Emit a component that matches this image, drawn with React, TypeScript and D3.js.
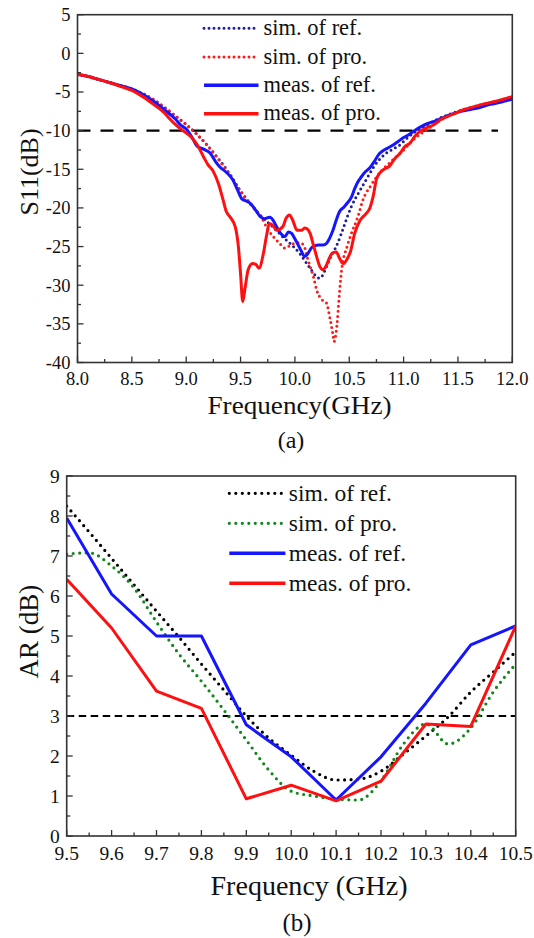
import React from 'react';
import * as d3 from 'd3';

const FONT = "'Liberation Serif', 'Times New Roman', Times, 'DejaVu Serif', serif";

// ---------- (a) S11 data ----------
const s11SimRefFreq = [8.0, 8.2, 8.4, 8.5, 8.6, 8.7, 8.8, 8.9, 9.0, 9.1, 9.2, 9.3, 9.4, 9.5, 9.6, 9.7, 9.8, 9.9, 10.0, 10.05, 10.1, 10.15, 10.2, 10.23, 10.26, 10.29, 10.33, 10.38, 10.42, 10.45, 10.52, 10.6, 10.67, 10.72, 10.8, 10.85, 10.9, 10.97, 11.03, 11.09, 11.2, 11.3, 11.4, 11.5, 11.6, 11.7, 11.8, 11.9, 12.0];
const s11SimRefDb = [-2.7, -3.4, -4.2, -4.6, -5.2, -6.0, -7.0, -8.1, -9.2, -10.5, -12.0, -13.7, -15.6, -17.8, -19.6, -21.2, -22.5, -23.9, -25.2, -26.0, -27.0, -28.0, -28.9, -29.1, -28.6, -27.6, -26.3, -25.0, -23.6, -22.4, -19.8, -17.7, -16.0, -14.8, -13.4, -12.8, -12.4, -11.8, -11.0, -10.3, -9.4, -8.6, -8.0, -7.5, -7.1, -6.8, -6.4, -6.1, -5.8];

const s11SimProFreq = [8.0, 8.2, 8.4, 8.5, 8.6, 8.7, 8.8, 8.9, 9.0, 9.1, 9.2, 9.3, 9.4, 9.5, 9.6, 9.7, 9.74, 9.8, 9.86, 9.91, 9.95, 9.99, 10.04, 10.08, 10.12, 10.17, 10.2, 10.25, 10.29, 10.32, 10.35, 10.36, 10.385, 10.41, 10.43, 10.48, 10.52, 10.58, 10.63, 10.69, 10.75, 10.81, 10.87, 10.93, 11.0, 11.06, 11.12, 11.2, 11.3, 11.4, 11.5, 11.6, 11.7, 11.8, 11.9, 12.0];
const s11SimProDb = [-2.7, -3.4, -4.2, -4.6, -5.2, -6.0, -7.0, -8.1, -9.2, -10.5, -12.0, -13.8, -15.7, -17.9, -19.7, -21.4, -22.5, -23.7, -24.6, -25.2, -24.9, -24.6, -24.5, -24.8, -26.7, -28.9, -30.6, -31.9, -32.3, -34.1, -36.4, -37.3, -35.4, -31.0, -28.0, -25.0, -23.3, -21.1, -18.8, -17.3, -16.0, -15.0, -14.2, -13.4, -12.5, -11.6, -10.8, -10.0, -9.0, -8.2, -7.6, -7.1, -6.7, -6.4, -6.0, -5.6];

const s11MeasRefFreq = [8.0, 8.1, 8.2, 8.3, 8.4, 8.5, 8.6, 8.7, 8.8, 8.9, 8.95, 9.0, 9.05, 9.1, 9.16, 9.22, 9.27, 9.31, 9.37, 9.43, 9.47, 9.51, 9.55, 9.59, 9.64, 9.68, 9.72, 9.77, 9.8, 9.83, 9.87, 9.91, 9.94, 9.97, 10.0, 10.03, 10.06, 10.09, 10.12, 10.15, 10.18, 10.22, 10.26, 10.29, 10.32, 10.35, 10.38, 10.41, 10.45, 10.48, 10.52, 10.55, 10.58, 10.61, 10.65, 10.69, 10.73, 10.77, 10.81, 10.85, 10.9, 10.95, 11.0, 11.05, 11.1, 11.2, 11.3, 11.4, 11.5, 11.6, 11.7, 11.8, 11.9, 12.0];
const s11MeasRefDb = [-2.7, -3.0, -3.4, -3.8, -4.2, -4.6, -5.3, -6.2, -7.3, -8.5, -9.3, -9.8, -10.8, -12.0, -12.4, -12.9, -14.0, -14.7, -15.4, -16.4, -17.6, -18.8, -19.1, -19.4, -20.3, -21.1, -21.4, -21.2, -21.6, -22.4, -23.3, -23.7, -23.1, -23.3, -24.0, -24.8, -25.6, -26.3, -25.9, -25.2, -24.9, -24.8, -24.8, -24.6, -23.9, -22.9, -21.6, -20.5, -19.9, -19.4, -18.6, -17.5, -16.6, -16.0, -15.3, -14.8, -14.0, -13.1, -12.6, -12.3, -11.9, -11.4, -10.9, -10.5, -10.0, -9.2, -8.7, -8.1, -7.6, -7.3, -7.0, -6.6, -6.3, -5.9];

const s11MeasProFreq = [8.0, 8.1, 8.2, 8.3, 8.4, 8.5, 8.6, 8.7, 8.8, 8.85, 8.9, 8.95, 9.0, 9.05, 9.1, 9.16, 9.2, 9.25, 9.3, 9.34, 9.37, 9.4, 9.45, 9.48, 9.5, 9.52, 9.54, 9.57, 9.61, 9.64, 9.67, 9.71, 9.74, 9.765, 9.8, 9.83, 9.89, 9.92, 9.95, 9.98, 10.02, 10.06, 10.09, 10.12, 10.14, 10.17, 10.2, 10.23, 10.26, 10.29, 10.32, 10.34, 10.38, 10.41, 10.445, 10.48, 10.51, 10.55, 10.6, 10.65, 10.69, 10.72, 10.75, 10.78, 10.82, 10.87, 10.92, 10.97, 11.01, 11.06, 11.1, 11.15, 11.2, 11.27, 11.35, 11.45, 11.55, 11.65, 11.75, 11.85, 11.95, 12.0];
const s11MeasProDb = [-2.7, -3.0, -3.4, -3.8, -4.3, -4.8, -5.6, -6.6, -7.7, -8.5, -9.2, -9.8, -10.3, -10.9, -11.8, -13.4, -14.4, -15.3, -17.0, -19.0, -20.5, -21.1, -22.4, -25.0, -28.5, -32.1, -30.5, -28.0, -27.2, -27.3, -27.8, -25.9, -23.5, -22.0, -22.3, -22.9, -22.4, -21.3, -20.9, -21.6, -22.9, -22.9, -22.6, -22.8, -23.3, -24.8, -26.3, -27.6, -28.0, -27.4, -26.4, -25.9, -25.7, -26.5, -27.2, -26.6, -25.7, -23.3, -21.6, -20.8, -20.0, -18.5, -16.3, -15.5, -15.0, -14.6, -13.6, -12.9, -12.1, -11.6, -10.8, -10.1, -9.7, -9.3, -8.5, -7.9, -7.3, -6.9, -6.5, -6.2, -5.8, -5.6];

const s11XTicks = [8.0, 8.5, 9.0, 9.5, 10.0, 10.5, 11.0, 11.5, 12.0];
const s11YTicks = [5, 0, -5, -10, -15, -20, -25, -30, -35, -40];

// ---------- (b) AR data ----------
const arMeasFreq = [9.5, 9.6, 9.7, 9.8, 9.9, 10.0, 10.1, 10.2, 10.3, 10.4, 10.5];
const arMeasRef = [7.95, 6.05, 5.0, 5.0, 2.78, 1.98, 0.9, 1.98, 3.32, 4.78, 5.25];
const arMeasPro = [6.42, 5.2, 3.62, 3.19, 0.93, 1.27, 0.88, 1.37, 2.8, 2.74, 5.25];

const arSimFreq = [9.5, 9.55, 9.6, 9.65, 9.7, 9.75, 9.8, 9.85, 9.9, 9.95, 10.0, 10.05, 10.1, 10.15, 10.2, 10.25, 10.3, 10.35, 10.4, 10.45, 10.5];
const arSimRef = [8.25, 7.6, 6.94, 6.28, 5.62, 4.97, 4.3, 3.65, 3.0, 2.45, 2.02, 1.62, 1.4, 1.42, 1.62, 2.05, 2.5, 2.98, 3.6, 4.1, 4.6];
const arSimPro = [7.05, 7.08, 6.75, 6.2, 5.35, 4.55, 3.87, 3.15, 2.4, 1.65, 1.12, 1.0, 0.92, 0.9, 1.38, 2.3, 2.8, 2.3, 2.7, 3.6, 4.3];

const arXTicks = [9.5, 9.6, 9.7, 9.8, 9.9, 10.0, 10.1, 10.2, 10.3, 10.4, 10.5];
const arYTicks = [0, 1, 2, 3, 4, 5, 6, 7, 8, 9];

const legendLabels = ['sim. of ref.', 'sim. of pro.', 'meas. of ref.', 'meas. of pro.'];

type Series = { freq: number[]; vals: number[]; color: string; dotted: boolean };

type PanelProps = {
  id: string;
  box: { left: number; right: number; top: number; bottom: number };
  xDomain: [number, number];
  yDomain: [number, number];
  xTicks: number[];
  xMinorStep: number;
  yTicks: number[];
  yMinorStep: number;
  tickSize: number;
  xTickBase: number;
  series: Series[];
  refValue: number;
  refDash: string;
  refWidth: number;
  refEnd: number;
  lineWidth: number;
  dotDash: string;
  dotWidth: number;
  legend: { x1: number; x2: number; tx: number; rows: number[]; size: number; dy: number };
  xTitle: { text: string; x: number; y: number; size: number; len: number };
  yTitle: { text: string; x: number; y: number; size: number };
  caption: { text: string; x: number; y: number; size: number };
  curve: (i: number) => d3.CurveFactory;
};

function Panel(p: PanelProps) {
  const { box } = p;
  const x = d3.scaleLinear().domain(p.xDomain).range([box.left, box.right]);
  const y = d3.scaleLinear().domain(p.yDomain).range([box.bottom, box.top]);

  const xMinor = d3.range(p.xDomain[0], p.xDomain[1] + 1e-9, p.xMinorStep);
  const yMinor = d3.range(p.yDomain[0], p.yDomain[1] + 1e-9, p.yMinorStep);
  const isMajor = (v: number, list: number[]) => list.some(t => Math.abs(t - v) < 1e-6);

  return (
    <g>
      <defs>
        <clipPath id={p.id}>
          <rect x={box.left} y={box.top} width={box.right - box.left} height={box.bottom - box.top} />
        </clipPath>
      </defs>

      {/* reference level */}
      <line x1={box.left} x2={p.refEnd} y1={y(p.refValue)} y2={y(p.refValue)}
        stroke="#000" strokeWidth={p.refWidth} strokeDasharray={p.refDash} />

      {/* curves */}
      <g clipPath={`url(#${p.id})`}>
        {p.series.map((s, i) => {
          const pts = s.freq.map((f, j) => [f, s.vals[j]] as [number, number]);
          const line = d3.line<[number, number]>()
            .x(d => x(d[0]))
            .y(d => y(d[1]))
            .curve(p.curve(i));
          return (
            <path key={i} d={line(pts) || ''} fill="none" stroke={s.color}
              strokeWidth={s.dotted ? p.dotWidth : p.lineWidth}
              strokeDasharray={s.dotted ? p.dotDash : undefined}
              strokeLinecap={s.dotted ? 'round' : 'butt'}
              strokeLinejoin="round" />
          );
        })}
      </g>

      {/* frame */}
      <rect x={box.left} y={box.top} width={box.right - box.left} height={box.bottom - box.top}
        fill="none" stroke="#333" strokeWidth={1.6} />

      {/* x ticks, pointing inward */}
      {xMinor.map((v, i) => (
        <line key={'xm' + i} x1={x(v)} x2={x(v)} y1={box.bottom}
          y2={box.bottom - (isMajor(v, p.xTicks) ? 6 : 3.5)} stroke="#333" strokeWidth={1.3} />
      ))}
      {p.xTicks.map(v => (
        <text key={'xt' + v} x={x(v)} y={p.xTickBase} textAnchor="middle"
          fontSize={p.tickSize} fill="#111">{d3.format('.1f')(v)}</text>
      ))}

      {/* y ticks, pointing inward */}
      {yMinor.map((v, i) => (
        <line key={'ym' + i} x1={box.left} x2={box.left + (isMajor(v, p.yTicks) ? 6 : 3.5)}
          y1={y(v)} y2={y(v)} stroke="#333" strokeWidth={1.3} />
      ))}
      {p.yTicks.map(v => (
        <text key={'yt' + v} x={box.left - 7} y={y(v)} dy="0.35em" textAnchor="end"
          fontSize={p.tickSize} fill="#111">{String(v)}</text>
      ))}

      {/* legend */}
      {p.series.map((s, i) => (
        <g key={'lg' + i}>
          <line x1={p.legend.x1} x2={p.legend.x2} y1={p.legend.rows[i]} y2={p.legend.rows[i]}
            stroke={s.color} strokeWidth={s.dotted ? p.dotWidth : p.lineWidth + 0.5}
            strokeDasharray={s.dotted ? p.dotDash : undefined}
            strokeLinecap={s.dotted ? 'round' : 'butt'} />
          <text x={p.legend.tx} y={p.legend.rows[i] + p.legend.dy}
            fontSize={p.legend.size} fill="#111">{legendLabels[i]}</text>
        </g>
      ))}

      {/* titles */}
      <text x={p.xTitle.x} y={p.xTitle.y} textAnchor="middle"
        fontSize={p.xTitle.size} fill="#111" textLength={p.xTitle.len}
        lengthAdjust="spacingAndGlyphs">{p.xTitle.text}</text>
      <text transform={`translate(${p.yTitle.x},${p.yTitle.y}) rotate(-90)`} textAnchor="middle"
        dy="0.35em" fontSize={p.yTitle.size} fill="#111">{p.yTitle.text}</text>
      <text x={p.caption.x} y={p.caption.y} textAnchor="middle"
        fontSize={p.caption.size} fill="#111">{p.caption.text}</text>
    </g>
  );
}

export default function App() {
  const s11Series: Series[] = [
    { freq: s11SimRefFreq, vals: s11SimRefDb, color: '#1e1e9e', dotted: true },
    { freq: s11SimProFreq, vals: s11SimProDb, color: '#ff1a1a', dotted: true },
    { freq: s11MeasRefFreq, vals: s11MeasRefDb, color: '#1515ff', dotted: false },
    { freq: s11MeasProFreq, vals: s11MeasProDb, color: '#ff1010', dotted: false },
  ];
  const arSeries: Series[] = [
    { freq: arSimFreq, vals: arSimRef, color: '#000000', dotted: true },
    { freq: arSimFreq, vals: arSimPro, color: '#11861a', dotted: true },
    { freq: arMeasFreq, vals: arMeasRef, color: '#1515ff', dotted: false },
    { freq: arMeasFreq, vals: arMeasPro, color: '#ff1010', dotted: false },
  ];

  return (
    <svg width={534} height={938}
      style={{ position: 'absolute', left: 0, top: 0, background: '#fff', fontFamily: FONT }}>
      <Panel
        id="clipA"
        box={{ left: 77.5, right: 512.3, top: 14.7, bottom: 362.5 }}
        xDomain={[8, 12]}
        yDomain={[-40, 5]}
        xTicks={s11XTicks}
        xMinorStep={0.25}
        yTicks={s11YTicks}
        yMinorStep={2.5}
        tickSize={18.5}
        xTickBase={385}
        series={s11Series}
        refValue={-10}
        refDash="13 10"
        refWidth={2.2}
        refEnd={498}
        lineWidth={3}
        dotDash="0 5"
        dotWidth={3}
        legend={{ x1: 204, x2: 258.5, tx: 263.5, rows: [28.3, 57, 85.3, 113.7], size: 22.5, dy: 6.7 }}
        xTitle={{ text: 'Frequency(GHz)', x: 299.5, y: 413.5, size: 26, len: 184 }}
        yTitle={{ text: 'S11(dB)', x: 29, y: 172, size: 26 }}
        caption={{ text: '(a)', x: 291, y: 448, size: 24 }}
        curve={() => d3.curveMonotoneX}
      />
      <Panel
        id="clipB"
        box={{ left: 66.7, right: 515.7, top: 476, bottom: 836 }}
        xDomain={[9.5, 10.5]}
        yDomain={[0, 9]}
        xTicks={arXTicks}
        xMinorStep={0.05}
        yTicks={arYTicks}
        yMinorStep={0.5}
        tickSize={19.5}
        xTickBase={860}
        series={arSeries}
        refValue={3}
        refDash="7.5 4.5"
        refWidth={2.2}
        refEnd={515.7}
        lineWidth={3}
        dotDash="0 6.5"
        dotWidth={3.2}
        legend={{ x1: 229.3, x2: 285.4, tx: 288.8, rows: [493.3, 523.3, 553.3, 583.3], size: 23.5, dy: 8 }}
        xTitle={{ text: 'Frequency (GHz)', x: 309, y: 895, size: 27, len: 197 }}
        yTitle={{ text: 'AR (dB)', x: 28.6, y: 631.7, size: 27 }}
        caption={{ text: '(b)', x: 297, y: 931, size: 25 }}
        curve={i => (i < 2 ? d3.curveMonotoneX : d3.curveLinear)}
      />
    </svg>
  );
}
